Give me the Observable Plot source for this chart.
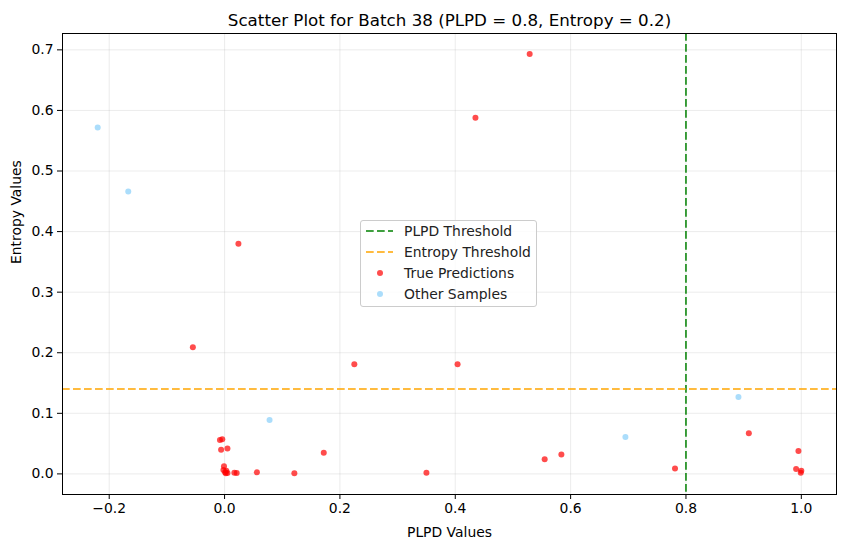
<!DOCTYPE html>
<html>
<head>
<meta charset="utf-8">
<script src="https://cdn.jsdelivr.net/npm/d3@7"></script>
<script src="https://cdn.jsdelivr.net/npm/@observablehq/plot@0.6"></script>
<style>
  body { margin: 0; background: #fff; font-family: "DejaVu Sans", sans-serif; }
  #wrap { position: relative; width: 846px; height: 547px; }
  #legend { position: absolute; left: 360px; top: 220px; width: 175px; height: 85px;
    border: 1px solid #cccccc; border-radius: 3px; background: rgba(255,255,255,0.8);
    font-size: 13.9px; color: #222; }
  .row { position: absolute; left: 0; height: 20px; display: flex; align-items: center; }
  .row svg { margin-left: 5px; }
  .row span { margin-left: 11px; white-space: nowrap; }
</style>
</head>
<body>
<div id="wrap"></div>
<script>
const title = "Scatter Plot for Batch 38 (PLPD = 0.8, Entropy = 0.2)";
const xLabel = "PLPD Values";
const yLabel = "Entropy Values";
const plpdThreshold = 0.8;
const entropyLine = 0.14;

const trueX = [0.529, 0.435, 0.024, -0.055, 0.225, 0.404, -0.008, -0.004, -0.006, 0.005,
  -0.001, -0.002, 0.001, 0.003, 0.005, 0.002, 0.017, 0.021, 0.056, 0.121,
  0.172, 0.350, 0.555, 0.584, 0.781, 0.909, 0.995, 0.991, 1.0, 0.999];
const trueY = [0.693, 0.588, 0.380, 0.209, 0.181, 0.181, 0.056, 0.057, 0.040, 0.042,
  0.0125, 0.0066, 0.0026, 0.0054, 0.0016, 0.001, 0.002, 0.0016, 0.0026, 0.001,
  0.035, 0.002, 0.024, 0.032, 0.009, 0.067, 0.038, 0.008, 0.005, 0.002];
const otherX = [-0.220, -0.167, 0.078, 0.695, 0.891];
const otherY = [0.572, 0.466, 0.089, 0.061, 0.127];
const xTicks = [-0.2, 0, 0.2, 0.4, 0.6, 0.8, 1.0];
const yTicks = [0, 0.1, 0.2, 0.3, 0.4, 0.5, 0.6, 0.7];
const legendItems = ["PLPD Threshold", "Entropy Threshold", "True Predictions", "Other Samples"];
const legendColors = ["green", "orange", "red", "lightskyblue"];

const trueData = trueX.map((x, i) => ({x, y: trueY[i]}));
const otherData = otherX.map((x, i) => ({x, y: otherY[i]}));
const fmt = d3.format(".1f");
const dash = "7.7,3.3";

const chart = Plot.plot({
  width: 846,
  height: 547,
  marginLeft: 62,
  marginRight: 10,
  marginTop: 33,
  marginBottom: 53,
  style: {fontFamily: "DejaVu Sans, sans-serif", fontSize: "13.9px", color: "#000", background: "#fff"},
  x: {domain: [-0.281, 1.061]},
  y: {domain: [-0.034, 0.727]},
  marks: [
    Plot.gridX(xTicks, {stroke: "#b0b0b0", strokeOpacity: 0.3, strokeWidth: 0.8}),
    Plot.gridY(yTicks, {stroke: "#b0b0b0", strokeOpacity: 0.3, strokeWidth: 0.8}),
    Plot.ruleX([plpdThreshold], {stroke: "green", strokeWidth: 1.5, strokeDasharray: dash}),
    Plot.ruleY([entropyLine], {stroke: "orange", strokeWidth: 1.5, strokeDasharray: dash}),
    Plot.dot(trueData, {x: "x", y: "y", r: 3, fill: "red", fillOpacity: 0.7, stroke: "none"}),
    Plot.dot(otherData, {x: "x", y: "y", r: 3, fill: "lightskyblue", fillOpacity: 0.7, stroke: "none"}),
    Plot.frame({stroke: "#000", strokeWidth: 1}),
    Plot.axisX(xTicks, {tickSize: 5, tickPadding: 4, tickFormat: fmt, label: null, fontSize: 13.9}),
    Plot.axisY(yTicks, {tickSize: 5, tickPadding: 4, tickFormat: fmt, label: null, fontSize: 13.9}),
    Plot.text([xLabel], {frameAnchor: "bottom", dy: 42, fontSize: 13.9, fill: "#000"}),
    Plot.text([yLabel], {frameAnchor: "left", dx: -46, rotate: -90, fontSize: 13.9, fill: "#000"}),
    Plot.text([title], {frameAnchor: "top", dy: -19, fontSize: 16.7, fill: "#000"})
  ]
});
const wrap = document.getElementById("wrap");
wrap.appendChild(chart);

const legend = document.createElement("div");
legend.id = "legend";
legendItems.forEach((label, i) => {
  const row = document.createElement("div");
  row.className = "row";
  row.style.top = (0 + i * 21.1) + "px";
  const handle = i < 2
    ? `<line x1="0" x2="27" y1="5" y2="5" stroke="${legendColors[i]}" stroke-width="1.5" stroke-dasharray="${dash}"/>`
    : `<circle cx="14" cy="5" r="3" fill="${legendColors[i]}" fill-opacity="0.7"/>`;
  row.innerHTML = `<svg width="27" height="10">${handle}</svg><span>${label}</span>`;
  legend.appendChild(row);
});
wrap.appendChild(legend);
</script>
</body>
</html>
